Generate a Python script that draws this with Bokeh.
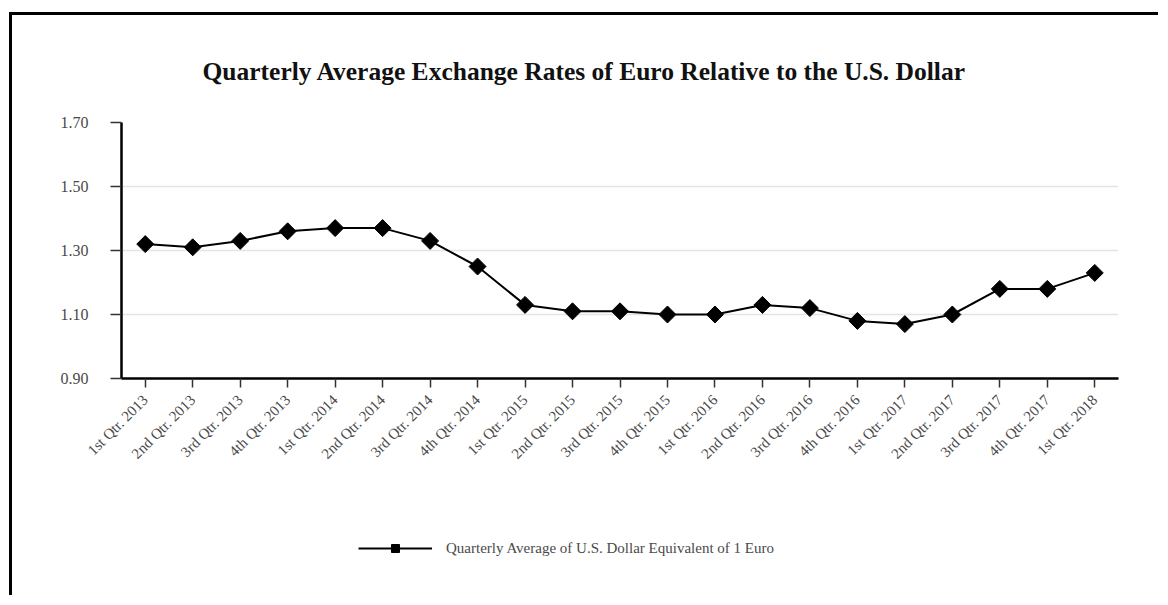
import math
from bokeh.plotting import figure
from bokeh.layouts import column
from bokeh.models import (ColumnDataSource, FactorRange, Range1d, Legend, LegendItem,
                          FixedTicker, NumeralTickFormatter)
from bokeh.embed import file_html
from bokeh.resources import INLINE

quarters = ["1st Qtr. 2013", "2nd Qtr. 2013", "3rd Qtr. 2013", "4th Qtr. 2013",
            "1st Qtr. 2014", "2nd Qtr. 2014", "3rd Qtr. 2014", "4th Qtr. 2014",
            "1st Qtr. 2015", "2nd Qtr. 2015", "3rd Qtr. 2015", "4th Qtr. 2015",
            "1st Qtr. 2016", "2nd Qtr. 2016", "3rd Qtr. 2016", "4th Qtr. 2016",
            "1st Qtr. 2017", "2nd Qtr. 2017", "3rd Qtr. 2017", "4th Qtr. 2017",
            "1st Qtr. 2018"]
usd_per_euro = [1.32, 1.31, 1.33, 1.36, 1.37, 1.37, 1.33, 1.25,
                1.13, 1.11, 1.11, 1.10, 1.10, 1.13, 1.12, 1.08,
                1.07, 1.10, 1.18, 1.18, 1.23]
y_ticks = [0.90, 1.10, 1.30, 1.50, 1.70]
series_name = "Quarterly Average of U.S. Dollar Equivalent of 1 Euro"
title_text = "Quarterly Average Exchange Rates of Euro Relative to the U.S. Dollar"

SERIF = "Liberation Serif"
LINE_STYLE = dict(line_color="black", line_width=2)
MARK_STYLE = dict(marker="square", angle=math.pi / 4, size=12,
                  fill_color="black", line_color="black")

src = ColumnDataSource(data=dict(q=quarters, v=usd_per_euro))

p = figure(x_range=FactorRange(*quarters), y_range=Range1d(0.90, 1.70),
           frame_width=997, frame_height=256,
           output_backend="svg", toolbar_location=None,
           min_border_left=109, min_border_right=40,
           min_border_top=107, min_border_bottom=100)

p.title.text = title_text
p.title.align = "left"
p.title.text_font = SERIF
p.title.text_font_size = "25.5px"
p.title.text_font_style = "bold"
p.title.text_color = "#111111"
p.title.offset = 81
p.title.standoff = 74

p.outline_line_color = None
p.background_fill_color = "white"
p.border_fill_color = "white"

p.xgrid.grid_line_color = None
p.ygrid.grid_line_color = "#e4e4e4"
p.ygrid.grid_line_width = 1.5

p.yaxis.ticker = FixedTicker(ticks=y_ticks)
p.yaxis.formatter = NumeralTickFormatter(format="0.00")
p.yaxis.axis_line_color = "black"
p.yaxis.axis_line_width = 2.5
p.yaxis.major_tick_in = 0
p.yaxis.major_tick_out = 11
p.yaxis.major_tick_line_width = 1.5
p.yaxis.major_tick_line_color = "#333333"
p.yaxis.minor_tick_line_color = None
p.yaxis.major_label_text_font = SERIF
p.yaxis.major_label_text_font_size = "16px"
p.yaxis.major_label_text_color = "#4a4a4a"
p.yaxis.major_label_standoff = 22

p.xaxis.axis_line_color = "black"
p.xaxis.axis_line_width = 2.5
p.xaxis.major_tick_in = 0
p.xaxis.major_tick_out = 9
p.xaxis.major_tick_line_width = 1.5
p.xaxis.major_tick_line_color = "#333333"
p.xaxis.major_label_orientation = math.pi / 4
p.xaxis.major_label_text_font = SERIF
p.xaxis.major_label_text_font_size = "15px"
p.xaxis.major_label_text_color = "#4a4a4a"
p.xaxis.major_label_standoff = 10

p.line("q", "v", source=src, **LINE_STYLE)
p.scatter("q", "v", source=src, **MARK_STYLE)

# legend strip below the chart: same series renderers, kept out of its view range
lg = figure(width=1146, height=117, output_backend="svg", toolbar_location=None,
            min_border=0, x_range=FactorRange(*quarters), y_range=Range1d(0, 0.5))
lg.axis.visible = False
lg.grid.grid_line_color = None
lg.outline_line_color = None
lg.background_fill_color = "white"
lg.border_fill_color = "white"
kl = lg.line("q", "v", source=src, **LINE_STYLE)
km = lg.scatter("q", "v", source=src, **MARK_STYLE)
legend = Legend(items=[LegendItem(label=series_name, renderers=[kl, km])],
                location=(237, 37), orientation="horizontal",
                label_text_font=SERIF, label_text_font_size="15px",
                label_text_color="#4a4a4a", glyph_width=74, glyph_height=20,
                label_standoff=14, border_line_color=None, margin=0, padding=8,
                background_fill_alpha=0)
lg.add_layout(legend, "center")

layout = column(p, lg, spacing=0)
layout.styles = {"border-top": "3px solid black", "border-left": "3px solid black"}
layout.margin = (12, 0, 0, 9)

open("out.html", "w").write(file_html(layout, INLINE))
